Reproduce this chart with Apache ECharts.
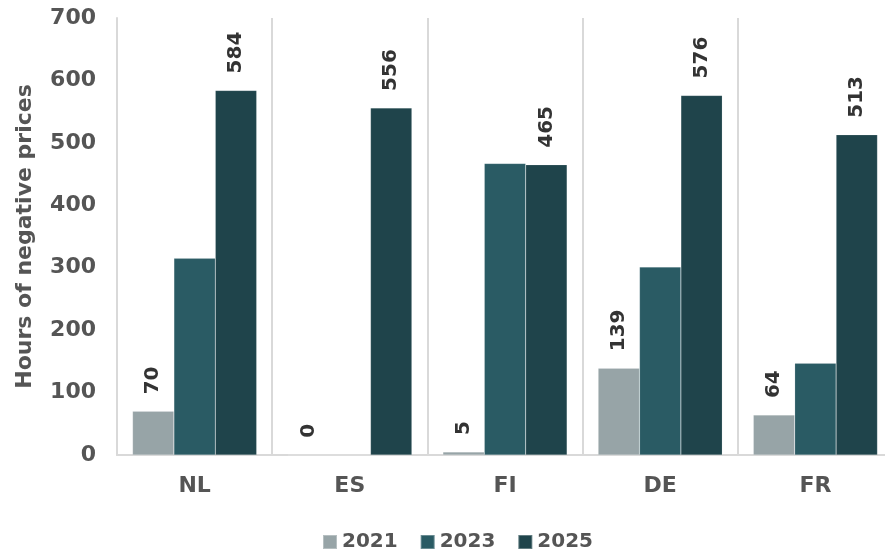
<!DOCTYPE html>
<html><head><meta charset="utf-8">
<script src="https://cdn.jsdelivr.net/npm/echarts@6/dist/echarts.min.js"></script>
<style>html,body{margin:0;padding:0;background:#fff;overflow:hidden}#c{width:885px;height:549px}</style>
</head><body><div id="c"></div>
<script>
const categories = ['NL','ES','FI','DE','FR'];
const seriesNames = ['2021','2023','2025'];
const values2021 = [70, 0, 5, 139, 64];
const values2023 = [315, 0, 467, 301, 147];
const values2025 = [584, 556, 465, 576, 513];
const yTicks = [0,100,200,300,400,500,600,700];
const colors = ['#97a4a7','#2a5b64','#1f444b'];
const FONT = 'DejaVu Sans';
const chart = echarts.init(document.getElementById('c'));
function lbl(show){
  return {show:show, position:'top', rotate:90, align:'left', verticalAlign:'middle', distance:17,
    fontFamily:FONT, fontWeight:'bold', fontSize:20, color:'#333'};
}
const layout = {rotate:90, align:'left', verticalAlign:'middle'};
chart.setOption({
  animation:false,
  grid:{left:117,right:-8,top:18,bottom:94,containLabel:false,outerBoundsMode:'none'},
  legend:{top:527,left:317,itemWidth:14,itemHeight:14,itemGap:22,icon:'rect',
    textStyle:{fontFamily:FONT,fontWeight:'bold',fontSize:20,color:'#555'},data:seriesNames},
  xAxis:{type:'category',data:categories,
    axisLine:{lineStyle:{color:'#d9d9d9',width:2}},axisTick:{show:false},
    axisLabel:{fontFamily:FONT,fontWeight:'bold',fontSize:22,color:'#555',margin:20},
    splitLine:{show:true,lineStyle:{color:'#d9d9d9',width:2}}},
  yAxis:{type:'value',min:yTicks[0],max:yTicks[yTicks.length-1],interval:100,
    name:'Hours of negative prices',nameLocation:'middle',nameGap:81,
    nameTextStyle:{fontFamily:FONT,fontWeight:'bold',fontSize:22,color:'#555'},
    axisLine:{show:true,lineStyle:{color:'#d9d9d9',width:2}},axisTick:{show:false},
    splitLine:{show:false},
    axisLabel:{fontFamily:FONT,fontWeight:'bold',fontSize:22,color:'#555',margin:21}},
  series:[
    {name:'2021',type:'bar',data:values2021,barGap:'0%',barCategoryGap:'20%',itemStyle:{color:colors[0],borderColor:'rgba(255,255,255,0.3)',borderWidth:0.5},label:lbl(true),labelLayout:layout},
    {name:'2023',type:'bar',data:values2023,barGap:'0%',barCategoryGap:'20%',itemStyle:{color:colors[1],borderColor:'rgba(255,255,255,0.3)',borderWidth:0.5},label:lbl(false)},
    {name:'2025',type:'bar',data:values2025,barGap:'0%',barCategoryGap:'20%',itemStyle:{color:colors[2],borderColor:'rgba(255,255,255,0.3)',borderWidth:0.5},label:lbl(true),labelLayout:layout}
  ]
});
</script></body></html>
